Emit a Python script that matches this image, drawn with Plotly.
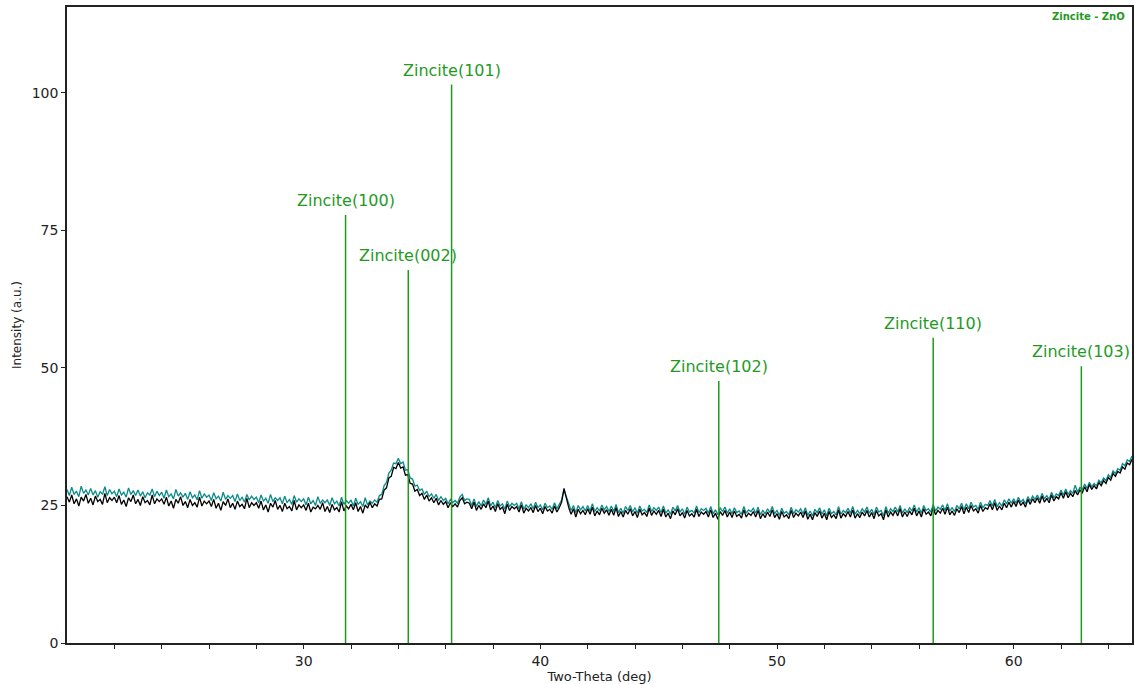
import plotly.graph_objects as go

# Scan grid (instrument start angle and step)
two_theta_start = 20.0
two_theta_step = 0.1

sample_black = [
    26.6, 25.6, 26.9, 25.3, 26.2, 24.9, 26.5, 25.8, 27.0, 25.4,
    26.3, 25.1, 26.7, 25.7, 26.1, 25.2, 27.2, 25.5, 26.4, 25.9,
    26.5, 25.5, 26.8, 25.2, 26.0, 24.8, 26.4, 25.7, 26.9, 25.3,
    26.1, 25.0, 26.6, 25.5, 25.9, 25.1, 26.9, 25.3, 26.2, 25.7,
    26.2, 25.2, 26.5, 24.9, 25.8, 24.5, 26.1, 25.4, 26.6, 25.0,
    25.7, 24.6, 26.1, 25.0, 25.5, 24.7, 26.5, 24.9, 25.8, 25.3,
    25.8, 24.8, 26.1, 24.5, 25.4, 24.1, 25.7, 25.0, 26.2, 24.6,
    25.4, 24.3, 25.8, 24.8, 25.2, 24.4, 26.3, 24.6, 25.5, 25.0,
    25.5, 24.5, 25.8, 24.2, 25.1, 23.8, 25.4, 24.7, 25.9, 24.3,
    25.0, 23.9, 25.4, 24.4, 24.8, 24.0, 25.9, 24.2, 25.1, 24.6,
    25.1, 24.1, 25.4, 23.8, 24.7, 24.4, 25.0, 24.3, 25.5, 23.9,
    24.8, 23.7, 25.2, 24.2, 24.6, 23.8, 25.7, 24.0, 24.9, 24.4,
    25.2, 24.2, 25.5, 23.9, 24.8, 23.6, 25.1, 24.5, 25.6, 24.6,
    25.3, 24.9, 26.1, 26.2, 27.8, 28.2, 30.0, 30.3, 31.9, 31.7,
    32.8, 31.8, 32.0, 30.5, 30.6, 29.0, 28.9, 27.6, 27.9, 26.8,
    27.2, 26.1, 26.9, 25.8, 26.4, 25.5, 26.3, 25.1, 25.9, 25.2,
    25.7, 24.6, 25.5, 24.8, 25.3, 24.7, 25.9, 26.4, 25.3, 25.6,
    25.4, 24.4, 25.6, 24.1, 25.0, 24.3, 25.3, 24.6, 25.8, 24.2,
    24.9, 23.9, 25.3, 24.3, 24.7, 23.5, 25.2, 24.1, 24.8, 24.4,
    24.8, 23.8, 25.1, 23.6, 24.5, 24.0, 24.6, 23.7, 25.0, 23.9,
    24.5, 23.5, 24.8, 24.0, 24.3, 23.6, 24.9, 23.8, 24.6, 25.6,
    28.1, 26.2, 24.6, 23.4, 24.4, 22.9, 24.3, 23.5, 24.1, 23.3,
    24.4, 23.4, 24.7, 23.1, 24.0, 23.3, 24.5, 23.6, 24.2, 23.2,
    24.3, 23.2, 24.6, 23.0, 23.9, 22.9, 24.1, 23.4, 24.4, 23.1,
    23.9, 22.8, 24.3, 23.3, 23.7, 23.0, 24.5, 23.2, 24.0, 23.4,
    24.1, 23.0, 24.3, 22.9, 23.6, 22.6, 24.0, 23.3, 24.4, 23.1,
    23.7, 22.7, 24.1, 23.1, 23.5, 22.9, 24.3, 23.0, 23.8, 23.4,
    23.9, 22.9, 24.2, 22.8, 23.6, 22.5, 23.9, 23.2, 24.1, 22.9,
    23.8, 22.8, 24.0, 23.0, 23.4, 22.7, 24.2, 22.9, 23.6, 23.2,
    23.9, 22.9, 24.1, 22.6, 23.5, 22.8, 23.8, 23.0, 24.2, 22.8,
    23.5, 22.5, 23.9, 22.9, 23.3, 22.6, 24.1, 22.8, 23.6, 23.1,
    23.8, 22.8, 24.0, 22.5, 23.4, 22.4, 23.7, 23.0, 24.0, 22.7,
    23.6, 22.4, 23.9, 22.8, 23.3, 22.6, 24.2, 22.7, 23.5, 23.0,
    23.9, 22.9, 24.2, 22.7, 23.5, 22.8, 23.8, 23.1, 24.1, 22.9,
    23.7, 22.6, 24.1, 23.1, 23.5, 22.4, 24.2, 22.9, 23.8, 23.2,
    24.1, 23.1, 24.4, 22.9, 23.8, 23.0, 24.0, 23.3, 24.5, 23.1,
    24.0, 22.9, 24.4, 23.4, 23.8, 23.1, 24.6, 23.3, 24.1, 23.6,
    24.5, 23.4, 24.7, 23.3, 24.0, 23.2, 24.4, 23.7, 24.8, 23.5,
    24.7, 23.7, 25.0, 24.0, 24.4, 23.6, 25.0, 23.9, 24.6, 24.3,
    25.3, 24.2, 25.5, 24.1, 24.9, 24.2, 25.4, 24.6, 25.6, 24.7,
    25.7, 24.8, 26.0, 25.0, 25.6, 24.7, 26.1, 25.2, 26.2, 25.5,
    26.4, 25.4, 26.7, 25.6, 26.3, 25.5, 26.9, 25.8, 26.6, 26.2,
    27.3, 26.3, 27.5, 26.4, 27.2, 26.6, 27.7, 26.9, 27.8, 27.3,
    28.4, 27.5, 28.8, 27.9, 28.6, 28.0, 29.2, 28.6, 29.5, 29.0,
    30.1, 29.6, 30.8, 30.3, 31.2, 30.9, 32.0, 31.6, 32.7, 32.4,
    33.4,
]

sample_teal = [
    27.9, 26.8, 28.3, 27.0, 27.6, 26.6, 28.5, 27.2, 27.8, 26.9,
    28.1, 26.9, 27.7, 26.5, 27.5, 27.0, 28.4, 26.8, 27.9, 27.1,
    27.6, 26.6, 28.0, 26.9, 27.4, 26.5, 28.2, 27.0, 27.7, 26.8,
    27.8, 26.7, 27.5, 26.4, 27.3, 26.9, 28.0, 26.6, 27.6, 26.8,
    27.4, 26.3, 27.8, 26.6, 27.1, 26.2, 27.9, 26.7, 27.3, 26.5,
    27.2, 26.1, 27.5, 26.4, 26.9, 26.0, 27.7, 26.3, 27.1, 26.5,
    26.9, 25.9, 27.3, 26.2, 26.7, 25.8, 27.4, 26.1, 26.8, 26.3,
    26.8, 25.7, 27.1, 25.9, 26.5, 25.6, 27.0, 26.0, 26.7, 26.1,
    26.5, 25.5, 26.9, 25.8, 26.3, 25.4, 27.0, 25.7, 26.4, 25.9,
    26.4, 25.3, 26.7, 25.5, 26.1, 25.2, 26.8, 25.6, 26.2, 25.7,
    26.2, 25.1, 26.5, 25.3, 25.9, 25.0, 26.6, 25.4, 26.0, 25.5,
    26.0, 25.0, 26.4, 25.3, 25.8, 24.9, 26.5, 25.2, 25.9, 25.4,
    26.0, 24.9, 26.3, 25.2, 25.7, 24.8, 26.4, 25.1, 25.8, 25.4,
    26.0, 25.6, 26.8, 27.0, 28.6, 29.2, 30.9, 31.4, 32.7, 32.6,
    33.6, 32.6, 32.9, 31.4, 31.5, 30.0, 29.8, 28.5, 28.7, 27.7,
    28.0, 27.0, 27.6, 26.6, 27.1, 26.3, 27.0, 25.9, 26.6, 25.9,
    26.3, 25.3, 26.1, 25.5, 25.9, 25.4, 26.5, 27.0, 25.9, 26.2,
    26.1, 25.0, 26.2, 24.8, 25.7, 24.9, 26.0, 25.2, 26.4, 24.9,
    25.6, 24.6, 25.9, 24.9, 25.3, 24.3, 25.8, 24.8, 25.4, 25.0,
    25.4, 24.4, 25.7, 24.3, 25.1, 24.6, 25.3, 24.4, 25.6, 24.6,
    25.1, 24.2, 25.4, 24.6, 24.9, 24.3, 25.5, 24.4, 25.2, 26.0,
    27.8, 26.6, 25.2, 24.1, 25.0, 23.7, 25.0, 24.2, 24.8, 24.0,
    25.0, 24.0, 25.3, 23.9, 24.6, 24.0, 25.1, 24.2, 24.8, 23.9,
    24.9, 23.9, 25.2, 23.7, 24.5, 23.6, 24.8, 24.1, 25.0, 23.8,
    24.6, 23.6, 24.9, 24.0, 24.3, 23.7, 25.1, 23.9, 24.6, 24.1,
    24.7, 23.7, 24.9, 23.6, 24.2, 23.4, 24.7, 24.0, 25.0, 23.8,
    24.4, 23.4, 24.7, 23.8, 24.1, 23.6, 24.9, 23.7, 24.4, 24.1,
    24.5, 23.6, 24.8, 23.5, 24.2, 23.3, 24.6, 23.9, 24.7, 23.6,
    24.4, 23.5, 24.6, 23.7, 24.0, 23.4, 24.8, 23.6, 24.2, 23.9,
    24.5, 23.6, 24.7, 23.3, 24.1, 23.5, 24.4, 23.7, 24.8, 23.5,
    24.1, 23.2, 24.5, 23.6, 23.9, 23.3, 24.7, 23.5, 24.2, 23.8,
    24.4, 23.5, 24.6, 23.2, 24.0, 23.1, 24.3, 23.7, 24.6, 23.4,
    24.2, 23.1, 24.5, 23.5, 23.9, 23.3, 24.8, 23.4, 24.1, 23.7,
    24.5, 23.6, 24.8, 23.4, 24.1, 23.5, 24.4, 23.8, 24.7, 23.6,
    24.3, 23.3, 24.7, 23.8, 24.1, 23.1, 24.8, 23.6, 24.4, 23.9,
    24.7, 23.8, 25.0, 23.6, 24.4, 23.7, 24.6, 24.0, 25.1, 23.8,
    24.6, 23.6, 25.0, 24.1, 24.4, 23.8, 25.2, 24.0, 24.7, 24.3,
    25.1, 24.1, 25.3, 24.0, 24.6, 23.9, 25.0, 24.4, 25.4, 24.2,
    25.3, 24.4, 25.6, 24.7, 25.0, 24.3, 25.6, 24.6, 25.2, 25.0,
    25.9, 24.9, 26.1, 24.8, 25.5, 24.9, 26.0, 25.3, 26.2, 25.4,
    26.2, 25.4, 26.5, 25.6, 26.1, 25.3, 26.6, 25.8, 26.7, 26.1,
    26.9, 26.0, 27.2, 26.2, 26.8, 26.1, 27.4, 26.4, 27.1, 26.8,
    27.8, 26.9, 28.0, 27.0, 27.7, 27.2, 28.7, 27.4, 28.3, 27.9,
    28.9, 28.1, 29.2, 28.4, 29.0, 28.6, 29.6, 29.1, 30.0, 29.5,
    30.6, 30.1, 31.3, 30.8, 31.7, 31.4, 32.6, 32.2, 33.3, 33.0,
    34.0,
]

# Reference pattern: Zincite - ZnO
ref_labels = ["Zincite(100)", "Zincite(002)", "Zincite(101)",
              "Zincite(102)", "Zincite(110)", "Zincite(103)"]
ref_positions = [31.77, 34.42, 36.25, 47.54, 56.60, 62.86]
ref_heights = [77.8, 67.8, 101.5, 47.6, 55.5, 50.3]

x_tick_vals = [22, 24, 26, 28, 30, 32, 34, 36, 38, 40, 42, 44, 46, 48, 50,
               52, 54, 56, 58, 60, 62, 64]
x_tick_text = ["", "", "", "", "30", "", "", "", "", "40", "", "", "", "", "50",
               "", "", "", "", "60", "", ""]
y_tick_vals = [0, 25, 50, 75, 100]

n = len(sample_black)
two_theta = [round(two_theta_start + i * two_theta_step, 2) for i in range(n)]

GREEN = "#1f9a1f"
FONT = "DejaVu Sans"

fig = go.Figure()
fig.add_trace(go.Scatter(x=two_theta, y=sample_teal, mode="lines",
                         line=dict(color="#0a8a8a", width=1.3), showlegend=False,
                         hoverinfo="skip"))
fig.add_trace(go.Scatter(x=two_theta, y=sample_black, mode="lines",
                         line=dict(color="#000000", width=1.3), showlegend=False,
                         hoverinfo="skip"))

stick_x, stick_y = [], []
for p, h in zip(ref_positions, ref_heights):
    stick_x += [p, p, None]
    stick_y += [0, h, None]
fig.add_trace(go.Scatter(x=stick_x, y=stick_y, mode="lines",
                         line=dict(color=GREEN, width=1.5), showlegend=False,
                         hoverinfo="skip"))

for lab, p, h in zip(ref_labels, ref_positions, ref_heights):
    fig.add_annotation(x=p, y=h, xref="x", yref="y", text=lab, showarrow=False,
                       yanchor="bottom", xanchor="center", yshift=3,
                       font=dict(family=FONT, size=16, color=GREEN))

fig.add_annotation(x=1, y=1, xref="paper", yref="paper", text="<b>Zincite - ZnO</b>",
                   showarrow=False, xanchor="right", yanchor="top", xshift=-5, yshift=-2,
                   font=dict(family=FONT, size=10, color=GREEN))

fig.update_layout(
    width=1135, height=684,
    margin=dict(l=67, r=1, t=7, b=41),
    paper_bgcolor="white", plot_bgcolor="white",
    font=dict(family=FONT, color="#222222"),
)
fig.update_xaxes(range=[20, 65], showgrid=False, zeroline=False,
                 showline=True, linecolor="#222222", linewidth=1.5, mirror=True,
                 ticks="outside", ticklen=4, tickwidth=1.2, tickcolor="#222222",
                 tickvals=x_tick_vals, ticktext=x_tick_text,
                 tickfont=dict(family=FONT, size=14, color="#222222"),
                 title=dict(text="Two-Theta (deg)", standoff=2,
                            font=dict(family=FONT, size=13, color="#222222")))
fig.update_yaxes(range=[0, 115.6], showgrid=False, zeroline=False,
                 showline=True, linecolor="#222222", linewidth=1.5, mirror=True,
                 ticks="outside", ticklen=4, tickwidth=1.2, tickcolor="#222222",
                 tickvals=y_tick_vals,
                 tickfont=dict(family=FONT, size=14, color="#222222"),
                 title=dict(text="Intensity (a.u.)", standoff=8,
                            font=dict(family=FONT, size=12, color="#222222")))

fig.write_html("out.html")
